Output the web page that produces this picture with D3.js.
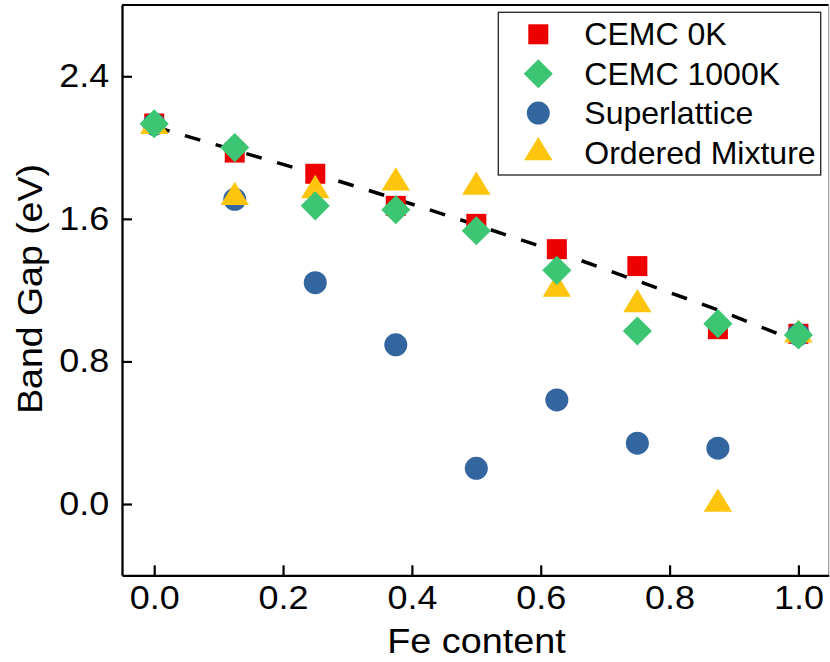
<!DOCTYPE html>
<html>
<head>
  <meta charset="UTF-8"/>
  <title>Band Gap vs Fe content</title>
  <style>
    body { margin: 0; background: #fff; }
    svg { display: block; }
    text { font-family: "Liberation Sans", Arial, sans-serif; fill: #000; }
    .tick text { font-size: 33px; }
    .legend text { font-size: 30.5px; }
    .title { font-size: 35px; }
  </style>
  <script src="https://d3js.org/d3.v7.min.js"></script>
</head>
<body>
<svg width="830" height="662"></svg>
<script>
// values
var feContent = [0, 0.125, 0.25, 0.375, 0.5, 0.625, 0.75, 0.875, 1.0];
var cemc0K = [2.135, 1.972, 1.853, 1.673, 1.572, 1.430, 1.335, 0.981, 0.955];
var cemc1000K = [2.134, 2.0, 1.673, 1.651, 1.533, 1.311, 0.971, 1.012, 0.949];
var superlattice = [2.13, 1.71, 1.242, 0.893, 0.20, 0.584, 0.341, 0.313, 0.95];
var orderedMixture = [2.12, 1.721, 1.760, 1.803, 1.779, 1.207, 1.12, 0.0, 0.95];
var fitLine = [2.118, 1.985, 1.853, 1.712, 1.566, 1.415, 1.252, 1.089, 0.91];

var xTicks = [0, 0.2, 0.4, 0.6, 0.8, 1.0];
var yTicks = [0, 0.8, 1.6, 2.4];

var svg = d3.select("svg"),
    margin = {top: 5, left: 122},
    width = 706.7,
    height = 570.3;

var x = d3.scaleLinear().domain([-0.05, 1.047]).range([0, width]),
    y = d3.scaleLinear().domain([-0.4, 2.8]).range([height, 0]);

var g = svg.append("g")
    .attr("transform", "translate(" + margin.left + "," + margin.top + ")");

// frame: black top, thin grey right
g.append("line").attr("x1", 0).attr("x2", width).attr("y1", 0).attr("y2", 0)
  .attr("stroke", "#000").attr("stroke-width", 2.2);
g.append("line").attr("x1", width).attr("x2", width).attr("y1", 0).attr("y2", height)
  .attr("stroke", "#9a9a9a").attr("stroke-width", 1.2);

var xAxis = g.append("g")
    .attr("transform", "translate(0," + height + ")")
    .call(d3.axisBottom(x).tickValues(xTicks).tickFormat(d3.format(".1f"))
      .tickSizeInner(-10).tickSizeOuter(0).tickPadding(10));

var yAxis = g.append("g")
    .call(d3.axisLeft(y).tickValues(yTicks).tickFormat(d3.format(".1f"))
      .tickSizeInner(-10).tickSizeOuter(0).tickPadding(11.7));

[xAxis, yAxis].forEach(function(a) {
  a.attr("font-family", null).attr("font-size", null);
  a.select(".domain").attr("stroke", "#000").attr("stroke-width", 2.3);
  a.selectAll(".tick line").attr("stroke", "#000").attr("stroke-width", 2.2);
  // the original font is a little wider than Arial
  a.selectAll(".tick text").attr("transform", "scale(1.09,1)");
});

// dashed fit line
g.append("path")
  .datum(feContent)
  .attr("fill", "none")
  .attr("stroke", "#000")
  .attr("stroke-width", 3.5)
  .attr("stroke-dasharray", "16,16")
  .attr("d", d3.line()
    .x(function(d) { return x(d); })
    .y(function(d, i) { return y(fitLine[i]); }));

var triPath = "M0,-15.5L14.2,7.8L-14.2,7.8Z";

var series = [
  {name: "CEMC 0K", values: cemc0K, color: "#ee0000", shape: "square", row: 0},
  {name: "Superlattice", values: superlattice, color: "#33659e", shape: "circle", row: 2},
  {name: "Ordered Mixture", values: orderedMixture, color: "#ffc40e", shape: "triangle", row: 3},
  {name: "CEMC 1000K", values: cemc1000K, color: "#3cc572", shape: "diamond", row: 1}
];

function drawMarker(sel, shape, color) {
  if (shape === "square") {
    sel.append("rect").attr("x", -10).attr("y", -10).attr("width", 20).attr("height", 20).attr("fill", color);
  } else if (shape === "diamond") {
    sel.append("rect").attr("x", -10.3).attr("y", -10.3).attr("width", 20.6).attr("height", 20.6)
      .attr("transform", "rotate(45)").attr("fill", color);
  } else if (shape === "circle") {
    sel.append("circle").attr("r", 11.5).attr("fill", color);
  } else {
    sel.append("path").attr("d", triPath).attr("fill", color);
  }
}

series.forEach(function(s) {
  g.append("g").selectAll("g")
    .data(feContent)
    .enter().append("g")
      .attr("transform", function(d, i) { return "translate(" + x(d) + "," + y(s.values[i]) + ")"; })
      .each(function() { drawMarker(d3.select(this), s.shape, s.color); });
});

// legend
var legend = svg.append("g").attr("class", "legend");
legend.append("rect")
  .attr("x", 498.3).attr("y", 12.3).attr("width", 322.4).attr("height", 162.7)
  .attr("fill", "#fff").attr("stroke", "#222").attr("stroke-width", 1.3);

series.slice().sort(function(a, b) { return a.row - b.row; }).forEach(function(s) {
  var cy = 34.3 + s.row * 39.4;
  var m = legend.append("g").attr("transform", "translate(538.3," + cy + ")");
  drawMarker(m, s.shape, s.color);
  legend.append("text")
    .attr("transform", "translate(584.3," + (cy + 11) + ") scale(1.05,1)")
    .text(s.name);
});

// axis titles
svg.append("text")
  .attr("class", "title")
  .attr("transform", "translate(476.5,652.7) scale(1.08,1)")
  .attr("text-anchor", "middle")
  .text("Fe content");

svg.append("text")
  .attr("class", "title")
  .attr("transform", "translate(41.7,289) rotate(-90) scale(1.07,1)")
  .attr("text-anchor", "middle")
  .text("Band Gap (eV)");
</script>
</body>
</html>
